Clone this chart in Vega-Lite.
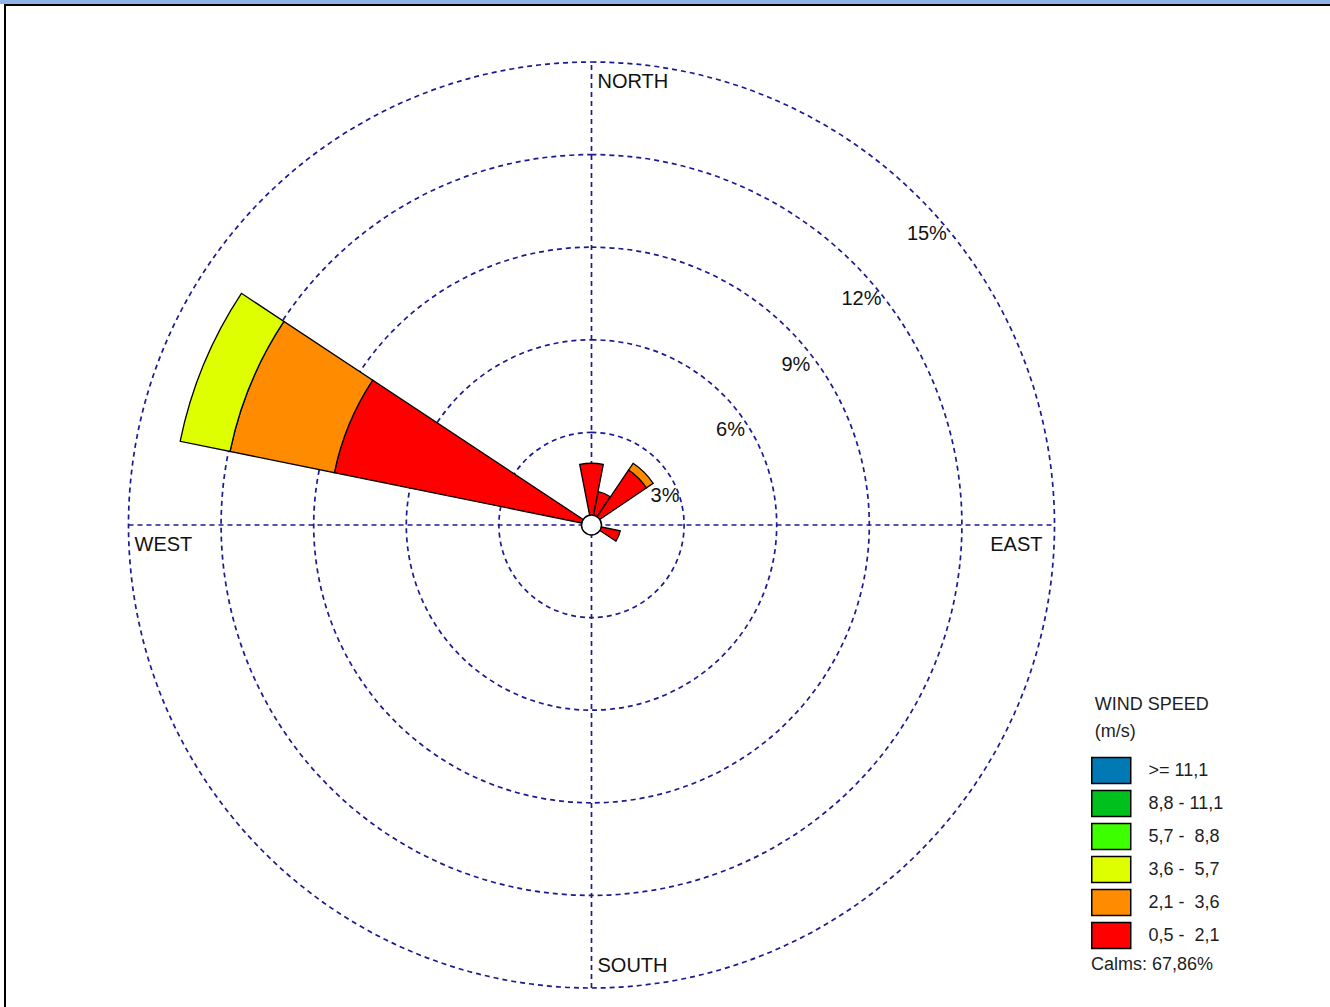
{
  "$schema": "https://vega.github.io/schema/vega-lite/v6.json",
  "background": "#8db4e2",
  "autosize": {"type": "none"},
  "padding": {"left": 0, "top": 4, "right": 0, "bottom": 0},
  "width": 1330,
  "height": 1003,
  "view": {"fill": "white", "stroke": null},
  "config": {"font": "Liberation Sans"},
  "layer": [
    {
      "data": {"values": [{"pct": 3}, {"pct": 6}, {"pct": 9}, {"pct": 12}, {"pct": 15}]},
      "mark": {"type": "arc", "filled": false, "stroke": "#1b1b8f", "strokeWidth": 1.7, "strokeDash": [5, 4]},
      "encoding": {
        "x": {"datum": 0, "type": "quantitative", "scale": {"domain": [-19.1631, 23.9255], "nice": false, "zero": false}, "axis": null},
        "y": {"datum": 0, "type": "quantitative", "scale": {"domain": [-15.6156, 16.8791], "nice": false, "zero": false}, "axis": null},
        "theta": {"datum": 0, "type": "quantitative", "stack": null, "scale": {"domain": [0, 360], "range": [0, 6.283185307179586]}},
        "theta2": {"datum": 360},
        "radius": {"field": "pct", "type": "quantitative", "stack": null, "scale": {"type": "linear", "domain": [0, 15], "range": [0, 463], "zero": true}}
      }
    },
    {
      "data": {"values": [{}]},
      "mark": {"type": "rule", "stroke": "#1b1b8f", "strokeWidth": 1.7, "strokeDash": [5, 4]},
      "encoding": {
        "x": {"datum": -15, "type": "quantitative", "axis": null},
        "x2": {"datum": 15},
        "y": {"datum": 0, "type": "quantitative", "axis": null}
      }
    },
    {
      "data": {"values": [{}]},
      "mark": {"type": "rule", "stroke": "#1b1b8f", "strokeWidth": 1.7, "strokeDash": [5, 4]},
      "encoding": {
        "x": {"datum": 0, "type": "quantitative", "axis": null},
        "y": {"datum": -15, "type": "quantitative", "axis": null},
        "y2": {"datum": 15}
      }
    },
    {
      "data": {"values": [
        {"dir": 292.5, "speed": "0,5 - 2,1", "pct": 8.5},
        {"dir": 292.5, "speed": "2,1 - 3,6", "pct": 3.45},
        {"dir": 292.5, "speed": "3,6 - 5,7", "pct": 1.65},
        {"dir": 0, "speed": "0,5 - 2,1", "pct": 2.0},
        {"dir": 22.5, "speed": "0,5 - 2,1", "pct": 1.1},
        {"dir": 45, "speed": "0,5 - 2,1", "pct": 2.15},
        {"dir": 45, "speed": "2,1 - 3,6", "pct": 0.26},
        {"dir": 112.5, "speed": "0,5 - 2,1", "pct": 0.95}
      ]},
      "transform": [
        {"stack": "pct", "groupby": ["dir"], "sort": [{"field": "speed", "order": "ascending"}], "as": ["r0", "r1"]},
        {"calculate": "datum.dir - 11", "as": "a0"},
        {"calculate": "datum.dir + 11", "as": "a1"}
      ],
      "mark": {"type": "arc", "stroke": "black", "strokeWidth": 1.3, "strokeJoin": "miter", "opacity": 1},
      "encoding": {
        "x": {"datum": 0, "type": "quantitative", "axis": null},
        "y": {"datum": 0, "type": "quantitative", "axis": null},
        "theta": {"field": "a0", "type": "quantitative", "stack": null},
        "theta2": {"field": "a1"},
        "radius": {"field": "r1", "type": "quantitative", "stack": null},
        "radius2": {"field": "r0"},
        "color": {
          "field": "speed", "type": "nominal",
          "scale": {
            "domain": [">= 11,1", "8,8 - 11,1", "5,7 - 8,8", "3,6 - 5,7", "2,1 - 3,6", "0,5 - 2,1"],
            "range": ["#0079b5", "#00c01e", "#3cff00", "#ddff00", "#ff8c00", "#ff0000"]
          },
          "legend": {
            "orient": "none", "legendX": 1094.75, "legendY": 692, "padding": 0,
            "title": ["WIND SPEED", "(m/s)"],
            "titleFont": "Liberation Sans", "titleFontSize": 18, "titleFontWeight": "normal", "titleColor": "#1e1e1e",
            "titleLineHeight": 27, "titlePadding": 13, "titleAnchor": "start",
            "labelFont": "Liberation Sans", "labelFontSize": 18, "labelColor": "#1e1e1e", "labelOffset": 20.75,
            "labelExpr": "length(datum.label) < 10 ? replace(datum.label, '- ', '-\u00a0\u00a0') : datum.label",
            "symbolType": "M-1.238,-0.825L1.238,-0.825L1.238,0.825L-1.238,0.825Z", "symbolSize": 992,
            "symbolStrokeColor": "black", "symbolStrokeWidth": 1.5, "symbolOpacity": 1,
            "rowPadding": 0
          }
        }
      }
    },
    {
      "data": {"values": [{"calms": 67.86}]},
      "mark": {"type": "point", "shape": "circle", "filled": true, "fill": "white", "stroke": "black", "strokeWidth": 1.5, "size": 400, "opacity": 1},
      "encoding": {
        "x": {"datum": 0, "type": "quantitative", "axis": null},
        "y": {"datum": 0, "type": "quantitative", "axis": null}
      }
    },
    {
      "data": {"values": [{"label": "3%", "pct": 3}, {"label": "6%", "pct": 6}, {"label": "9%", "pct": 9}, {"label": "12%", "pct": 12}, {"label": "15%", "pct": 15}]},
      "transform": [{"calculate": "datum.pct * 0.70711", "as": "px"}],
      "mark": {"type": "text", "align": "center", "baseline": "middle", "dx": 8, "dy": 36, "fontSize": 20, "font": "Liberation Sans", "color": "#111111"},
      "encoding": {
        "x": {"field": "px", "type": "quantitative", "axis": null},
        "y": {"field": "px", "type": "quantitative", "axis": null},
        "text": {"field": "label"}
      }
    },
    {
      "data": {"values": [{"label": "NORTH"}]},
      "mark": {"type": "text", "align": "left", "baseline": "middle", "dx": 6, "dy": 20, "fontSize": 20, "font": "Liberation Sans", "color": "#111111"},
      "encoding": {
        "x": {"datum": 0, "type": "quantitative", "axis": null},
        "y": {"datum": 15, "type": "quantitative", "axis": null},
        "text": {"field": "label"}
      }
    },
    {
      "data": {"values": [{"label": "WEST"}]},
      "mark": {"type": "text", "align": "left", "baseline": "middle", "dx": 6, "dy": 20, "fontSize": 20, "font": "Liberation Sans", "color": "#111111"},
      "encoding": {
        "x": {"datum": -15, "type": "quantitative", "axis": null},
        "y": {"datum": 0, "type": "quantitative", "axis": null},
        "text": {"field": "label"}
      }
    },
    {
      "data": {"values": [{"label": "EAST"}]},
      "mark": {"type": "text", "align": "right", "baseline": "middle", "dx": -12, "dy": 20, "fontSize": 20, "font": "Liberation Sans", "color": "#111111"},
      "encoding": {
        "x": {"datum": 15, "type": "quantitative", "axis": null},
        "y": {"datum": 0, "type": "quantitative", "axis": null},
        "text": {"field": "label"}
      }
    },
    {
      "data": {"values": [{"label": "SOUTH"}]},
      "mark": {"type": "text", "align": "left", "baseline": "middle", "dx": 6, "dy": -22, "fontSize": 20, "font": "Liberation Sans", "color": "#111111"},
      "encoding": {
        "x": {"datum": 0, "type": "quantitative", "axis": null},
        "y": {"datum": -15, "type": "quantitative", "axis": null},
        "text": {"field": "label"}
      }
    },
    {
      "data": {"values": [{"label": "Calms: 67,86%"}]},
      "mark": {"type": "text", "align": "left", "baseline": "middle", "fontSize": 18, "font": "Liberation Sans", "color": "#1e1e1e"},
      "encoding": {
        "x": {"datum": 16.182, "type": "quantitative", "axis": null},
        "y": {"datum": -14.255, "type": "quantitative", "axis": null},
        "text": {"field": "label"}
      }
    },
    {
      "data": {"values": [{}]},
      "mark": {"type": "rule", "stroke": "black", "strokeWidth": 2},
      "encoding": {
        "x": {"datum": -19.0011, "type": "quantitative", "axis": null}
      }
    },
    {
      "data": {"values": [{}]},
      "mark": {"type": "rule", "stroke": "black", "strokeWidth": 2},
      "encoding": {
        "x": {"datum": -19.0335, "type": "quantitative", "axis": null},
        "x2": {"datum": 23.9255},
        "y": {"datum": 16.8467, "type": "quantitative", "axis": null}
      }
    }
  ]
}
